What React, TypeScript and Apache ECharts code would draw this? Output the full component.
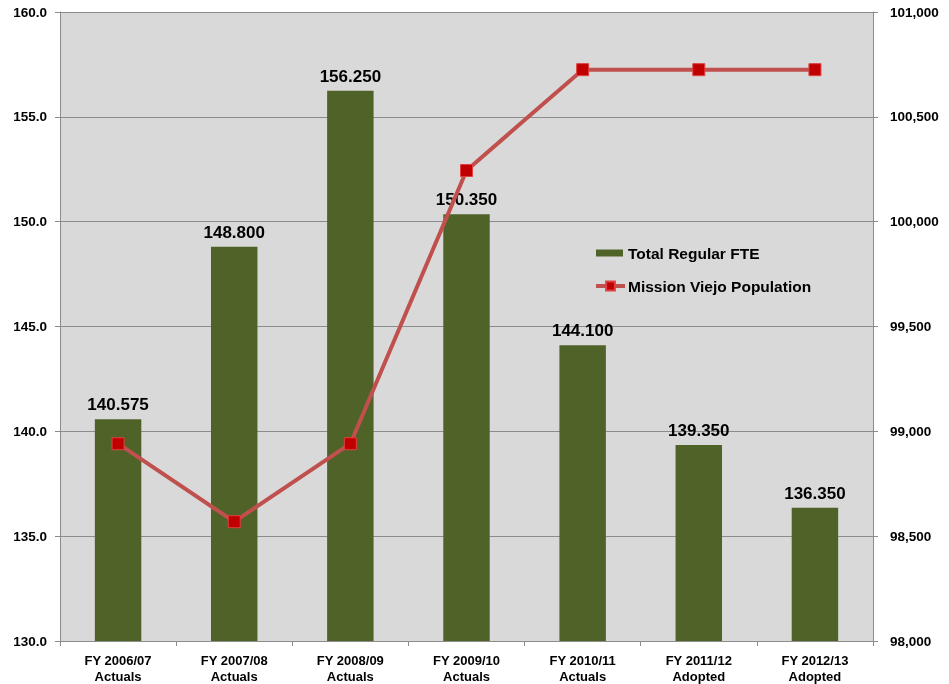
import React, { useEffect, useRef } from "react";
import * as echarts from "echarts";

const categories = [
  "FY 2006/07\nActuals",
  "FY 2007/08\nActuals",
  "FY 2008/09\nActuals",
  "FY 2009/10\nActuals",
  "FY 2010/11\nActuals",
  "FY 2011/12\nAdopted",
  "FY 2012/13\nAdopted",
];
const fteValues = [140.575, 148.8, 156.25, 150.35, 144.1, 139.35, 136.35];
const populationValues = [98941, 98569, 98941, 100244, 100725, 100725, 100725];
const seriesNames = ["Total Regular FTE", "Mission Viejo Population"];

export default function App() {
  const ref = useRef<HTMLDivElement>(null);
  useEffect(() => {
    if (!ref.current) return;
    const chart = echarts.init(ref.current, undefined, { renderer: "svg" });
    const font = "Liberation Sans, Arial, sans-serif";
    const legendText = { fontFamily: font, fontWeight: "bold", fontSize: 15.5, color: "#000" };
    chart.setOption({
      animation: false,
      textStyle: { fontFamily: font },
      grid: { left: 60, right: 76, top: 12, bottom: 41, show: true, backgroundColor: "#d9d9d9", borderWidth: 0 },
      legend: [
        {
          left: 596,
          top: 245,
          padding: 0,
          itemWidth: 27,
          itemHeight: 7,
          icon: "rect",
          textStyle: legendText,
          data: [seriesNames[0]],
        },
        {
          left: 594,
          top: 278,
          padding: 0,
          itemWidth: 29,
          itemHeight: 11,
          itemGap: 0,
          lineStyle: { width: 4 },
          textStyle: { ...legendText, padding: [0, 0, 0, -2] },
          data: [seriesNames[1]],
        },
      ],
      xAxis: {
        type: "category",
        data: categories,
        axisLine: { lineStyle: { color: "#8c8c8c", width: 1 } },
        axisTick: { show: true, length: 5, lineStyle: { color: "#8c8c8c" } },
        axisLabel: { fontFamily: font, fontWeight: "bold", fontSize: 13, color: "#000", lineHeight: 16, margin: 11 },
      },
      yAxis: [
        {
          type: "value",
          min: 130,
          max: 160,
          interval: 5,
          axisLine: { show: true, lineStyle: { color: "#8c8c8c" } },
          axisTick: { show: true, length: 5, lineStyle: { color: "#8c8c8c" } },
          splitLine: { show: true, lineStyle: { color: "#8c8c8c", width: 1 } },
          axisLabel: {
            fontFamily: font, fontWeight: "bold", fontSize: 13.5, color: "#000", margin: 13,
            formatter: (v: number) => v.toFixed(1),
          },
        },
        {
          type: "value",
          min: 98000,
          max: 101000,
          interval: 500,
          position: "right",
          axisLine: { show: true, lineStyle: { color: "#8c8c8c" } },
          axisTick: { show: true, length: 5, lineStyle: { color: "#8c8c8c" } },
          splitLine: { show: false },
          axisLabel: {
            fontFamily: font, fontWeight: "bold", fontSize: 13.5, color: "#000", margin: 17,
            formatter: (v: number) => v.toLocaleString("en-US"),
          },
        },
      ],
      series: [
        {
          name: seriesNames[0],
          type: "bar",
          data: fteValues,
          barWidth: "40%",
          itemStyle: { color: "#4f6228" },
          label: {
            show: true,
            position: "top",
            distance: 6,
            fontFamily: font,
            fontWeight: "bold",
            fontSize: 17,
            color: "#000",
            formatter: (p: any) => p.value.toFixed(3),
          },
        },
        {
          name: seriesNames[1],
          type: "line",
          yAxisIndex: 1,
          data: populationValues,
          symbol: "rect",
          symbolSize: 12,
          lineStyle: { color: "#c0504d", width: 4 },
          itemStyle: { color: "#c00000", borderColor: "#e04040", borderWidth: 1 },
          z: 5,
        },
      ],
    });
    return () => chart.dispose();
  }, []);
  return <div ref={ref} style={{ position: "fixed", left: 0, top: 0, width: 949, height: 684 }} />;
}
